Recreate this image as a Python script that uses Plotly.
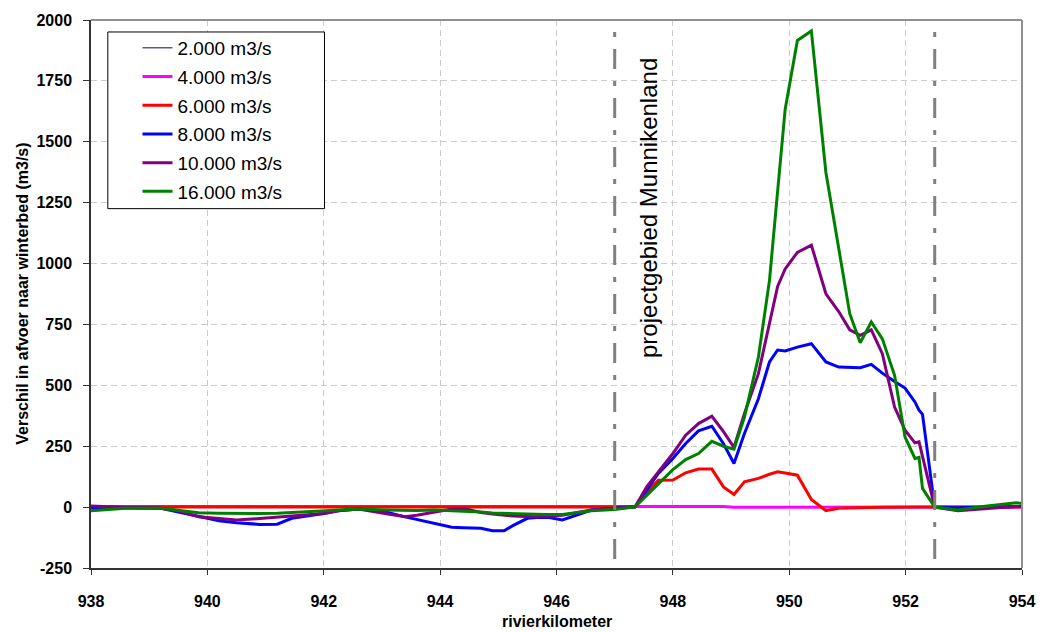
import plotly.graph_objects as go

km = [938.0, 938.6, 939.2, 939.5, 939.85, 940.2, 940.5, 940.9, 941.2, 941.45,
      942.0, 942.25, 942.6, 943.05, 943.4, 943.6, 943.9, 944.2, 944.4, 944.7,
      944.9, 945.1, 945.25, 945.5, 945.65, 945.85, 946.1, 946.6, 947.0, 947.35,
      947.55, 947.75, 948.0, 948.22, 948.44, 948.67, 948.87, 949.05, 949.23, 949.47,
      949.66, 949.8, 949.93, 950.14, 950.38, 950.63, 950.85, 951.04, 951.22, 951.41,
      951.6, 951.81, 951.99, 952.16, 952.23, 952.29, 952.5, 952.9, 953.4, 953.9, 954.0]

q2000 = [0] * 61

q4000 = [3] * 36 + [2, -1, -1, -1, -1, -1, -1, -1, -1, -1, -1, -1, -1, -1, -1,
                    -1, -1, -1, -1, -1, 0, 0, 0, 0, 0]

q6000 = [0] * 30 + [60, 110, 111, 141, 156, 156, 83, 52, 104, 118,
                    135, 145, 140, 131, 31, -15, -5, -3, -2, -2,
                    -1, 0, 0, 0, 0, 0, 0, 0, 0, 0, 0]

q8000 = [-3, -3, -5, -20, -37, -56, -64, -71, -70, -46,
         -26, -15, -8, -19, -40, -50, -65, -83, -85, -87,
         -97, -97, -76, -46, -43, -42, -53, -12, -5, 1,
         70, 138, 200, 261, 313, 332, 260, 179, 302, 445,
         596, 645, 641, 657, 671, 596, 575, 574, 572, 586,
         550, 516, 489, 432, 398, 381, 0, -3, 0, 3, 3]

q10000 = [5, -2, -5, -15, -40, -48, -53, -47, -42, -37,
          -26, -15, -8, -26, -40, -33, -19, -8, -5, -22,
          -28, -33, -37, -39, -40, -37, -33, -12, -5, 0,
          83, 145, 220, 295, 343, 373, 310, 245, 384, 548,
          760, 906, 978, 1046, 1076, 876, 803, 728, 705, 728,
          630, 411, 316, 264, 268, 206, 0, -15, -5, 3, 3]

q16000 = [-15, -5, -5, -12, -23, -25, -26, -26, -25, -22,
          -15, -12, -8, -12, -15, -14, -12, -14, -16, -20,
          -24, -26, -27, -28, -29, -30, -30, -15, -10, 1,
          49, 97, 154, 195, 220, 270, 250, 238, 370, 616,
          930, 1296, 1634, 1916, 1955, 1374, 1055, 794, 675, 760,
          691, 541, 288, 200, 204, 77, 0, -12, 5, 18, 15]

series_names = ["2.000 m3/s", "4.000 m3/s", "6.000 m3/s", "8.000 m3/s", "10.000 m3/s", "16.000 m3/s"]
series_values = [q2000, q4000, q6000, q8000, q10000, q16000]
series_colors = ["#000080", "#FF00FF", "#FF0000", "#0000FF", "#800080", "#008000"]
series_widths = [1, 3, 3, 3, 3, 3]

y_tickvals = [-250, 0, 250, 500, 750, 1000, 1250, 1500, 1750, 2000]
y_ticktext = ["-250", "0", "250", "500", "750", "1000", "1250", "1500", "1750", "2000"]
x_tickvals = [938, 940, 942, 944, 946, 948, 950, 952, 954]
x_ticktext = ["938", "940", "942", "944", "946", "948", "950", "952", "954"]

project_bounds = [947.0, 952.5]
annot_text = "projectgebied Munnikenland"

FONT = "Arial, 'Liberation Sans', sans-serif"

fig = go.Figure()
for i, (name, vals, col, w) in enumerate(zip(series_names, series_values, series_colors, series_widths)):
    fig.add_trace(go.Scatter(x=km, y=vals, mode="lines", name=name,
                             line=dict(color=col, width=w),
                             legendgroup=f"g{i}"))

L, R, T, B = 91, 15, 19, 64
W, H = 1047, 632
pw, ph = W - L - R, H - T - B

def px_x(p):
    return (p - L) / pw

def px_y(p):
    return 1 - (p - T) / ph

shapes = []
# legend box
shapes.append(dict(type="rect", xref="paper", yref="paper",
                   x0=px_x(108), x1=px_x(327), y0=px_y(208), y1=px_y(31),
                   line=dict(color="black", width=1), fillcolor="white", layer="above"))
# top and right border
shapes.append(dict(type="line", xref="x domain", yref="y domain", x0=0, x1=1, y0=1, y1=1,
                   line=dict(color="#909090", width=2)))
shapes.append(dict(type="line", xref="x domain", yref="y domain", x0=1, x1=1, y0=0, y1=1,
                   line=dict(color="#909090", width=2)))
for b in project_bounds:
    shapes.append(dict(type="line", xref="x", yref="y domain", x0=b, x1=b, y0=1, y1=0,
                       line=dict(color="#808080", width=3, dash="0px,12px,5px,12px,20px,0px")))

fig.update_layout(
    width=W, height=H,
    margin=dict(l=L, r=R, t=T, b=B),
    plot_bgcolor="white", paper_bgcolor="white",
    font=dict(family=FONT, color="black"),
    showlegend=True,
    legend=dict(x=px_x(138), y=px_y(28), xanchor="left", yanchor="top",
                bgcolor="rgba(0,0,0,0)", borderwidth=0,
                font=dict(size=19, family=FONT), tracegroupgap=1),
    shapes=shapes,
    xaxis=dict(range=[938, 954], tickvals=x_tickvals, ticktext=x_ticktext,
               showgrid=True, gridcolor="#CCCCCC", griddash="6px,4px", gridwidth=1,
               showline=True, linecolor="#333333", linewidth=1.5,
               ticks="outside", ticklen=5, tickcolor="#333333",
               tickfont=dict(size=16, family=FONT, weight="bold"),
               ticklabelstandoff=13, zeroline=False),
    yaxis=dict(range=[-250, 2000], tickvals=y_tickvals, ticktext=y_ticktext,
               showgrid=True, gridcolor="#CCCCCC", griddash="6px,4px", gridwidth=1,
               showline=True, linecolor="#333333", linewidth=1.5,
               ticks="outside", ticklen=6, tickcolor="#333333",
               tickfont=dict(size=16, family=FONT, weight="bold"),
               ticklabelstandoff=8, zeroline=False),
    annotations=[
        dict(text=annot_text, x=947.58, y=1230, xref="x", yref="y", showarrow=False,
             textangle=-90, font=dict(size=24, family=FONT), xanchor="center", yanchor="middle"),
        dict(text="Verschil in afvoer naar winterbed (m3/s)", x=px_x(21), y=0.5,
             xref="paper", yref="paper", showarrow=False, textangle=-90,
             font=dict(size=16, family=FONT, weight="bold"), xanchor="center", yanchor="middle"),
        dict(text="rivierkilometer", x=0.5, y=px_y(622), xref="paper", yref="paper",
             showarrow=False, font=dict(size=16, family=FONT, weight="bold"),
             xanchor="center", yanchor="middle"),
    ],
)

fig.write_html("out.html")
